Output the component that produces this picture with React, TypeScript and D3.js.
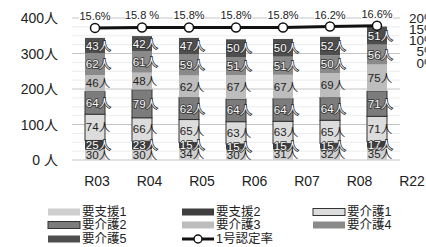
import React from 'react';
import * as d3 from 'd3';

const years = ['R03', 'R04', 'R05', 'R06', 'R07', 'R08', 'R22'];
const levels = ['要支援1', '要支援2', '要介護1', '要介護2', '要介護3', '要介護4', '要介護5'];
// people per level, bottom to top
const shien1 = [30, 30, 34, 30, 31, 32, 35];
const shien2 = [25, 23, 15, 15, 15, 15, 17];
const kaigo1 = [74, 66, 65, 63, 63, 65, 71];
const kaigo2 = [64, 79, 62, 64, 64, 64, 71];
const kaigo3 = [46, 48, 62, 67, 67, 69, 75];
const kaigo4 = [62, 61, 59, 51, 51, 50, 56];
const kaigo5 = [43, 42, 47, 50, 50, 52, 51];
const rate = [15.6, 15.8, 15.8, 15.8, 15.8, 16.2, 16.6];
const rateLabels = ['15.6%', '15.8 %', '15.8%', '15.8%', '15.8%', '16.2%', '16.6%'];
const leftTicks = [0, 100, 200, 300, 400];
const rightTicks = [0, 5, 10, 15, 20];

const seriesValues = [shien1, shien2, kaigo1, kaigo2, kaigo3, kaigo4, kaigo5];
const fills = ['#cfcfcf', '#3f3f3f', '#dcdcdc', '#7c7c7c', '#bdbdbd', '#8a8a8a', '#4e4e4e'];
const outlined = [false, false, true, true, false, false, false];
const lightText = [false, true, false, true, false, true, true];

const W = 426;
const H = 247;
const FONT = '"Liberation Sans", Arial, "Noto Sans CJK JP", sans-serif';

export default function App() {
  const y = d3.scaleLinear().domain([0, 400]).range([160, 18]);
  const yr = d3.scaleLinear().domain([0, 20]).range([63, 18]);
  const xBar = d3.scalePoint<string>().domain(years).range([95, 377]);
  const xLab = d3.scalePoint<string>().domain(years).range([97, 412]);
  const bw = 20;

  const table = years.map((yr_, i) => {
    const row: Record<string, number | string> = { year: yr_ };
    levels.forEach((l, k) => (row[l] = seriesValues[k][i]));
    return row;
  });
  const stacked = d3.stack<Record<string, number | string>>().keys(levels)(table as any);

  const line = d3
    .line<number>()
    .x((_, i) => xBar(years[i])!)
    .y((d) => yr(d));

  const minorGrid = d3.range(0, 401, 25);

  const legendCols = [48, 182, 313];
  const legendRows = [212, 225, 239];

  return (
    <svg
      width={W}
      height={H}
      style={{ position: 'absolute', left: 0, top: 0, background: '#fff' }}
      fontFamily={FONT}
    >
      {/* grid */}
      {minorGrid.map((t) => (
        <line key={'g' + t} x1={72} x2={400} y1={y(t)} y2={y(t)} stroke={t % 100 === 0 ? '#c4c4c4' : '#ececec'} strokeWidth={1} />
      ))}

      {/* left axis */}
      {leftTicks.map((t) => (
        <text key={'l' + t} x={58} y={y(t)} textAnchor="end" dominantBaseline="central" fontSize={14} fill="#222">
          {t === 0 ? '0 人' : t + '人'}
        </text>
      ))}

      {/* right axis */}
      {rightTicks.map((t) => (
        <text key={'r' + t} x={436} y={yr(t)} textAnchor="end" dominantBaseline="central" fontSize={13.5} fill="#222">
          {t + '%'}
        </text>
      ))}

      {/* bars */}
      {stacked.map((s, k) => (
        <g key={'s' + k}>
          {s.map((d, i) => {
            const x0 = xBar(years[i])! - bw / 2;
            return (
              <rect
                key={i}
                x={x0}
                y={y(d[1])}
                width={bw}
                height={y(d[0]) - y(d[1])}
                fill={fills[k]}
                stroke={outlined[k] ? '#333' : 'none'}
                strokeWidth={outlined[k] ? 1 : 0}
              />
            );
          })}
        </g>
      ))}

      {/* segment labels */}
      {stacked.map((s, k) => (
        <g key={'t' + k}>
          {s.map((d, i) => (
            <text
              key={i}
              x={xBar(years[i])! + 3}
              y={(y(d[0]) + y(d[1])) / 2}
              textAnchor="middle"
              dominantBaseline="central"
              fontSize={11.5}
              fill={lightText[k] ? '#fff' : '#222'}
              stroke={lightText[k] ? '#333' : 'none'}
              strokeWidth={lightText[k] ? 1.6 : 0}
              paintOrder="stroke"
            >
              {seriesValues[k][i] + '人'}
            </text>
          ))}
        </g>
      ))}

      {/* rate line */}
      <path d={line(rate) || ''} fill="none" stroke="#111" strokeWidth={3} />
      {rate.map((r, i) => (
        <g key={'p' + i}>
          <circle cx={xBar(years[i])!} cy={yr(r)} r={4.5} fill="#fff" stroke="#111" strokeWidth={1.5} />
          <rect x={xBar(years[i])! - 16} y={yr(r) - 18} width={32} height={11} fill="#fff" />
          <text x={xBar(years[i])!} y={yr(r) - 12} textAnchor="middle" dominantBaseline="central" fontSize={11} fill="#222">
            {rateLabels[i]}
          </text>
        </g>
      ))}

      {/* x labels */}
      {years.map((yy) => (
        <text key={'x' + yy} x={xLab(yy)!} y={181} textAnchor="middle" dominantBaseline="central" fontSize={14} fill="#222">
          {yy}
        </text>
      ))}

      {/* legend */}
      {levels.map((l, k) => {
        const col = k % 3;
        const row = Math.floor(k / 3);
        const lx = legendCols[col];
        const ly = legendRows[row];
        return (
          <g key={'lg' + k}>
            <rect
              x={lx}
              y={ly - 3.5}
              width={32}
              height={7}
              fill={fills[k]}
              stroke={outlined[k] ? '#333' : 'none'}
              strokeWidth={outlined[k] ? 1 : 0}
            />
            <text x={lx + 34} y={ly} dominantBaseline="central" fontSize={12.5} fill="#222">
              {l}
            </text>
          </g>
        );
      })}
      <g>
        <line x1={legendCols[1]} x2={legendCols[1] + 32} y1={legendRows[2]} y2={legendRows[2]} stroke="#111" strokeWidth={3} />
        <circle cx={legendCols[1] + 16} cy={legendRows[2]} r={4} fill="#fff" stroke="#111" strokeWidth={1.5} />
        <text x={legendCols[1] + 34} y={legendRows[2]} dominantBaseline="central" fontSize={12.5} fill="#222">
          1号認定率
        </text>
      </g>
    </svg>
  );
}
